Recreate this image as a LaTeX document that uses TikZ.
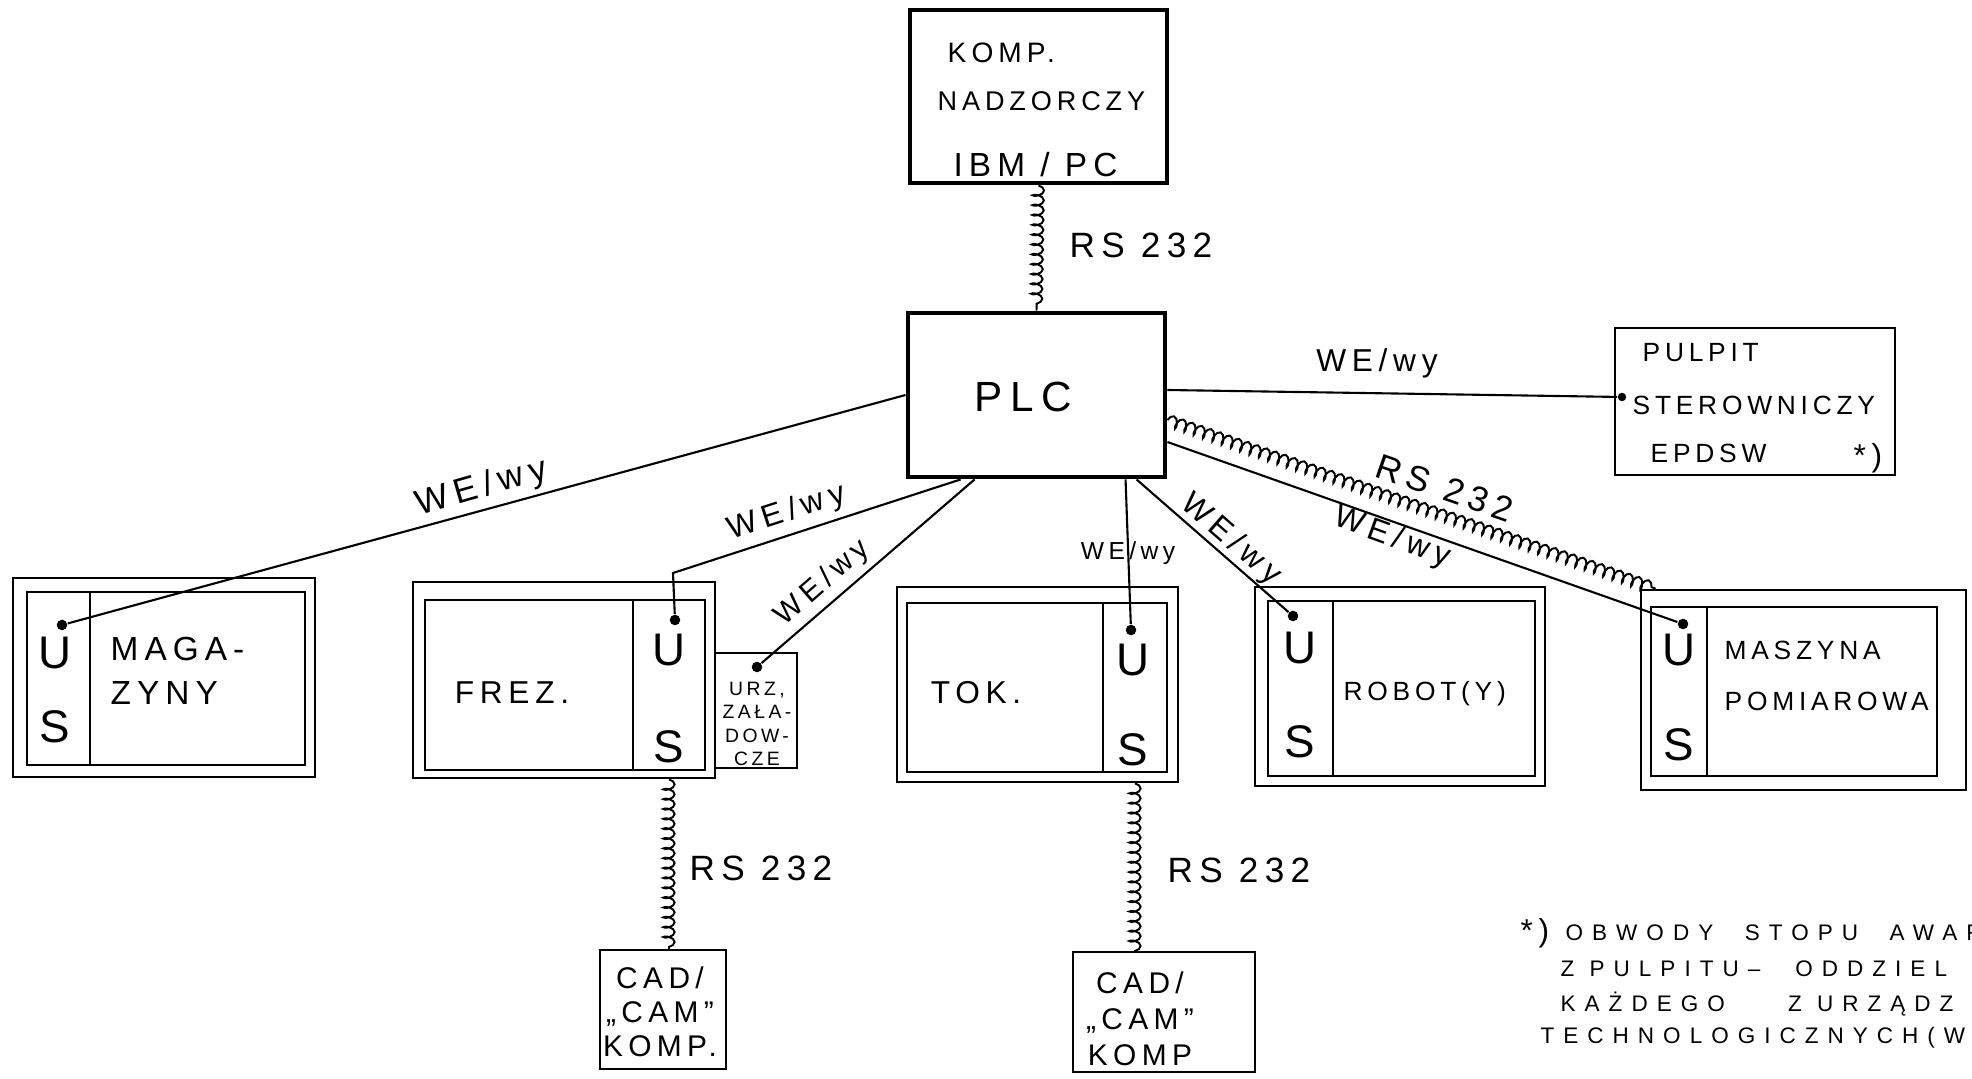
\documentclass[tikz,border=0pt]{standalone}
\usepackage{fontspec}
\newfontfamily\hand[LetterSpace=18]{Liberation Sans}
\newfontfamily\handwide[LetterSpace=40]{Liberation Sans}
\usetikzlibrary{fit,decorations.pathmorphing}
\newcommand\hsz[1]{\hand\fontsize{#1}{#1}\selectfont}

\tikzset{
  txt/.style={font=\hsz{#1},inner sep=0pt},
  txt/.default=9,
  note/.style={font=\handwide\fontsize{6.4}{6.4}\selectfont,inner sep=0pt,anchor=west},
  mainbox/.style={draw,line width=1.4pt,inner sep=0pt},
  machbox/.style={draw,line width=0.8pt,inner sep=0pt},
  thinbox/.style={draw,line width=0.6pt,inner sep=0pt},
  wire/.style={line width=0.6pt},
  rsline/.style={line width=0.55pt,decorate,
    decoration={coil,aspect=0.45,segment length=2.8pt,amplitude=1.6pt}},
  port/.style={circle,fill,inner sep=0pt,minimum size=3pt},
}

\begin{document}
\begin{tikzpicture}[x=0.01cm,y=-0.01cm]
  \useasboundingbox (0,0) rectangle (1972,1079);

  % supervisory computer, PLC, control desk
  \node[mainbox,fit={(910,10) (1167,183)}] (komp) {};
  \node[txt=8,anchor=west] (kompA) at (947,53) {KOMP.};
  \node[txt=7.7,anchor=west] (kompB) at (937,101) {NADZORCZY};
  \node[txt=9.5,anchor=west] (kompC) at (953,165) {IBM / PC};

  \node[mainbox,fit={(908,313) (1165,477)}] (plc) {};
  \node[txt=12] (plcL) at (1023,397) {PLC};

  \node[thinbox,fit={(1615,328) (1895,475)}] (pulpit) {};
  \node[txt=7.5,anchor=west] (pulA) at (1642,353) {PULPIT};
  \node[txt=7.5,anchor=west] (pulB) at (1632,405) {STEROWNICZY};
  \node[txt=7.5,anchor=west] (pulC) at (1650,453) {EPDSW};
  \node[txt=9] (pulStar) at (1868,458) {*)};
  \node[port,minimum size=2.4pt] (pulP) at (1622,397) {};

  % machines: outer frame, U/S column, name field
  \node[machbox,fit={(13,578) (315,777)}] (mag) {};
  \node[machbox,fit={(27,592) (90,765)}] (magUS) {};
  \node[machbox,fit={(90,592) (305,765)}] (magN) {};
  \node[txt=9.5,align=left,anchor=west] (magL) at (110,671) {MAGA-\\[3pt]ZYNY};

  \node[machbox,fit={(413,582) (715,778)}] (frez) {};
  \node[machbox,fit={(425,600) (633,770)}] (frezN) {};
  \node[machbox,fit={(633,600) (705,770)}] (frezUS) {};
  \node[txt=9] (frezL) at (512,693) {FREZ.};
  \node[thinbox,fit={(715,653) (797,768)}] (urz) {};
  \node[txt=5.5,align=center] (urzL) at (757,724) {URZ,\\[1.2pt]ZAŁA-\\[1.2pt]DOW-\\[1.2pt]CZE};
  \node[port] (urzP) at (757,667) {};

  \node[machbox,fit={(897,587) (1178,782)}] (tok) {};
  \node[machbox,fit={(907,603) (1103,772)}] (tokN) {};
  \node[machbox,fit={(1103,603) (1167,772)}] (tokUS) {};
  \node[txt=9] (tokL) at (976,693) {TOK.};

  \node[machbox,fit={(1255,587) (1545,786)}] (rob) {};
  \node[machbox,fit={(1268,601) (1333,776)}] (robUS) {};
  \node[machbox,fit={(1333,601) (1535,776)}] (robN) {};
  \node[txt=7.5,anchor=west] (robL) at (1343,694) {ROBOT(Y)};

  \node[machbox,fit={(1641,590) (1966,790)}] (masz) {};
  \node[machbox,fit={(1651,607) (1707,776)}] (maszUS) {};
  \node[machbox,fit={(1707,607) (1937,776)}] (maszN) {};
  \node[txt=7.5,align=left,anchor=west] (maszL) at (1724,676) {MASZYNA\\[7pt]POMIAROWA};

  \foreach \m/\ux/\uy/\sy/\px/\py in {mag/55/653/727/62/625,
                                     frez/669/650/747/675/620,
                                     tok/1133/660/750/1131/630,
                                     rob/1300/648/742/1293/616,
                                     masz/1679/650/745/1683/624}{
    \node[txt=13] (\m-u) at (\ux,\uy) {U};
    \node[txt=13] (\m-s) at (\ux,\sy) {S};
    \node[port] (\m P) at (\px,\py) {};
  }

  % CAD/CAM computers
  \node[thinbox,fit={(600,950) (726,1069)}] (cad1) {};
  \node[txt=8.5,align=center] (cad1L) at (660,1012) {CAD/\\[1.2pt]„CAM”\\[1.2pt]KOMP.};
  \node[thinbox,fit={(1073,952) (1255,1072)}] (cad2) {};
  \node[txt=8.5,align=center] (cad2L) at (1140,1019) {CAD/\\[1.8pt]„CAM”\\[1.8pt]KOMP};

  % WE/WY lines
  \coordinate (frezBend) at (673,573);
  \draw[wire] (plc.west) -- (magP);
  \draw[wire] ([xshift=0.55cm]plc.south west) -- (frezBend) -- (frezP);
  \draw[wire] ([xshift=0.69cm]plc.south west) -- (urzP);
  \draw[wire] ([xshift=0.89cm]plc.south) -- (tokP);
  \draw[wire] ([xshift=1.0cm]plc.south) -- (robP);
  \draw[wire] ([yshift=-0.47cm]plc.east) -- (maszP);
  \draw[wire] ([yshift=0.05cm]plc.east) -- (pulP);

  % RS 232 links
  \draw[rsline] (komp.south) -- (plc.north);
  \draw[rsline] ([yshift=-0.25cm]plc.east) -- ([xshift=0.16cm]masz.north west);
  \draw[rsline] (frezUS.south |- frez.south) -- (frezUS.south |- cad1.north);
  \draw[rsline] (tokUS.south |- tok.south) -- (tokUS.south |- cad2.north);

  \node[txt] (wePul) at (1377,363) {WE/wy};
  \node[txt=10,rotate=16] (weMag) at (482,488) {WE/wy};
  \node[txt,rotate=18] (weFrez) at (787,513) {WE/wy};
  \node[txt=8.5,rotate=41] (weUrz) at (823,583) {WE/wy};
  \node[txt=7] (weTok) at (1128,553) {WE/wy};
  \node[txt,rotate=-41] (weRob) at (1231,540) {WE/wy};
  \node[txt,rotate=-20] (weMasz) at (1392,538) {WE/wy};
  \node[txt=10,anchor=west] (rsTop) at (1069,245) {RS 232};
  \node[txt=10,rotate=-19] (rsMasz) at (1445,488) {RS 232};
  \node[txt=10,anchor=west] (rsCad1) at (689,868) {RS 232};
  \node[txt=10,anchor=west] (rsCad2) at (1167,870) {RS 232};

  % footnote, runs off the sheet
  \node[txt=9,anchor=west] (nStar) at (1520,933) {*)};
  \node[note] (n1) at (1565,933) {OBWODY\hspace{9pt}STOPU\hspace{9pt}AWAR};
  \node[note] (n2) at (1560,969) {Z PULPITU–\hspace{10pt}ODDZIEL};
  \node[note] (n3) at (1560,1004) {KAŻDEGO\hspace{18pt}Z URZĄDZ};
  \node[note] (n4) at (1540,1038) {TECHNOLOGICZNYCH(W};
\end{tikzpicture}
\end{document}
